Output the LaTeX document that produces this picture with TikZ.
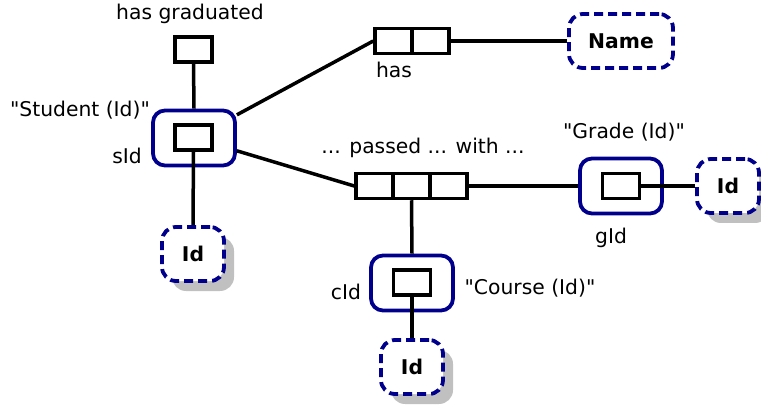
\documentclass[tikz,border=0pt]{standalone}
\usepackage{fontspec}
\setmainfont{DejaVu Sans}[Ligatures=TeXOff]
\usetikzlibrary{shadows}
\definecolor{entblue}{RGB}{0,0,140}
\definecolor{shadowgray}{RGB}{192,192,192}
\begin{document}
\begin{tikzpicture}[x=1pt,y=-1pt,
  every node/.style={font=\fontsize{20.3}{24}\selectfont},
  cell/.style={draw=black, line width=3.5pt, minimum width=37pt, minimum height=25pt, inner sep=0pt, fill=white},
  entity/.style={draw=entblue, line width=3.8pt, rounded corners=12pt, minimum width=82pt, minimum height=55pt, inner sep=0pt},
  valbox/.style={draw=entblue, line width=3.8pt, dash pattern=on 9pt off 5pt, rounded corners=14pt, fill=white, minimum height=54pt, inner sep=0pt, font=\fontsize{20.3}{24}\selectfont\bfseries},
  shad/.style={drop shadow={shadow xshift=10pt, shadow yshift=-10pt, fill=shadowgray, opacity=1}},
  conn/.style={draw=black, line width=3.5pt},
  lbl/.style={inner sep=0pt}]
\useasboundingbox (0,0) rectangle (761,409);

% student
\node[cell] (hg) at (193.5,49.5) {};
\node[entity] (student) at (194,138) {};
\node[cell] (sin) at (193.5,137.5) {};
\node[valbox, shad, minimum width=62pt] (sid) at (193,254) {Id};

% has
\node[cell] (has1) at (393.5,41) {};
\node[cell] (has2) at (430.5,41) {};
\node[valbox, minimum width=104pt] (name) at (621,41) {Name};

% passed
\node[cell] (p1) at (374.5,186) {};
\node[cell] (p2) at (411.5,186) {};
\node[cell] (p3) at (448.5,186) {};

% grade
\node[entity] (grade) at (621,186) {};
\node[cell] (gin) at (621,186) {};
\node[valbox, shad, minimum width=62pt] (gid) at (728,186) {Id};

% course
\node[entity] (course) at (412,283) {};
\node[cell] (cin) at (412,282.5) {};
\node[valbox, shad, minimum width=62pt] (cid) at (412,367) {Id};

% connectors
\draw[conn] (hg.south) -- (student.north);
\draw[conn] (sin.south) -- (sid.north);
\draw[conn] (student) -- (has1.west);
\draw[conn] (has2.east) -- (name.west);
\draw[conn] (student) -- (p1.west);
\draw[conn] (p3.east) -- (grade.west);
\draw[conn] (gin.east) -- (gid.west);
\draw[conn] (p2.south) -- (course.north);
\draw[conn] (cin.south) -- (cid.north);

% redraw cells on top
\node[cell] at (hg) {};
\node[cell] at (has1) {};
\node[cell] at (has2) {};
\node[cell] at (p1) {};
\node[cell] at (p2) {};
\node[cell] at (p3) {};

% labels
\node[lbl] (lhg) at (190,14) {has graduated};
\node[lbl] (lstudent) at (80,110) {"Student (Id)"};
\node[lbl] (lsid) at (127,156) {sId};
\node[lbl] (lhas) at (394,70) {has};
\node[lbl] (lpassed) at (423,148) {... passed ... with ...};
\node[lbl] (lgrade) at (624,132) {"Grade (Id)"};
\node[lbl] (lgid) at (611,238) {gId};
\node[lbl] (lcourse) at (530,288) {"Course (Id)"};
\node[lbl] (lcid) at (346,292) {cId};
\end{tikzpicture}
\end{document}
